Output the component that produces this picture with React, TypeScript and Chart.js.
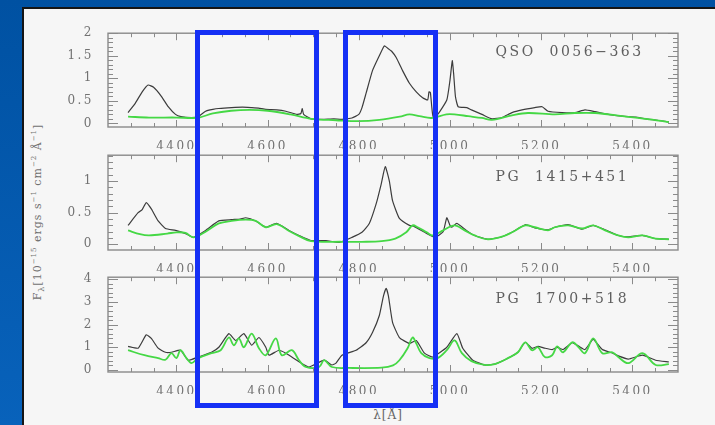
import { useEffect, useRef } from "react";
import { Chart, registerables } from "chart.js";

Chart.register(...registerables);

// ---------- data (wavelength in Å, flux in 1e-15 erg/s/cm2/Å) ----------
const xTickValues = [4400, 4600, 4800, 5000, 5200, 5400];

// QSO 0056-363
const qsoWave = [4294, 4310, 4325, 4338, 4350, 4367, 4382, 4398, 4410, 4433, 4448, 4464, 4480, 4493, 4521, 4545, 4565, 4580, 4596, 4620, 4640, 4664, 4673, 4676, 4679, 4695, 4720, 4745, 4763, 4785, 4800, 4807, 4816, 4830, 4845, 4856, 4863, 4872, 4882, 4896, 4911, 4926, 4940, 4951, 4954, 4957, 4960, 4963, 4973, 4993, 5000, 5005, 5008, 5012, 5018, 5037, 5047, 5070, 5092, 5114, 5136, 5158, 5186, 5202, 5215, 5246, 5274, 5296, 5318, 5347, 5378, 5407, 5429, 5455, 5480];
const qsoFlux = [0.24, 0.45, 0.7, 0.85, 0.8, 0.6, 0.37, 0.2, 0.15, 0.13, 0.15, 0.27, 0.31, 0.33, 0.35, 0.36, 0.35, 0.34, 0.31, 0.3, 0.27, 0.2, 0.22, 0.33, 0.2, 0.1, 0.09, 0.1, 0.09, 0.12, 0.2, 0.35, 0.67, 1.17, 1.5, 1.72, 1.67, 1.6, 1.46, 1.17, 0.89, 0.7, 0.57, 0.52, 0.7, 0.68, 0.37, 0.15, 0.2, 0.52, 0.96, 1.39, 1.1, 0.59, 0.37, 0.35, 0.3, 0.2, 0.1, 0.13, 0.24, 0.3, 0.35, 0.37, 0.27, 0.24, 0.24, 0.3, 0.26, 0.2, 0.16, 0.14, 0.1, 0.07, 0.03];
const qsoFeWave = [4294, 4340, 4400, 4433, 4450, 4480, 4520, 4560, 4600, 4650, 4697, 4750, 4800, 4845, 4890, 4911, 4933, 4960, 4992, 5010, 5040, 5070, 5092, 5136, 5171, 5230, 5274, 5318, 5378, 5430, 5480];
const qsoFeFlux = [0.15, 0.13, 0.13, 0.12, 0.13, 0.22, 0.28, 0.3, 0.28, 0.2, 0.1, 0.07, 0.05, 0.08, 0.15, 0.2, 0.16, 0.12, 0.2, 0.2, 0.16, 0.12, 0.08, 0.18, 0.23, 0.2, 0.23, 0.23, 0.16, 0.1, 0.03];

// PG 1415+451
const pg1415Wave = [4294, 4316, 4325, 4334, 4345, 4360, 4376, 4398, 4420, 4437, 4464, 4493, 4521, 4540, 4552, 4574, 4596, 4620, 4647, 4669, 4695, 4728, 4757, 4785, 4807, 4823, 4838, 4849, 4858, 4867, 4874, 4889, 4911, 4922, 4949, 4967, 4985, 4993, 5000, 5004, 5015, 5036, 5054, 5083, 5114, 5136, 5165, 5186, 5215, 5230, 5259, 5290, 5314, 5340, 5369, 5391, 5422, 5451, 5480];
const pg1415Flux = [0.3, 0.5, 0.55, 0.66, 0.56, 0.37, 0.25, 0.22, 0.17, 0.11, 0.22, 0.37, 0.39, 0.4, 0.42, 0.37, 0.27, 0.33, 0.22, 0.14, 0.06, 0.06, 0.03, 0.11, 0.19, 0.33, 0.64, 0.95, 1.23, 1.0, 0.69, 0.41, 0.3, 0.28, 0.17, 0.11, 0.2, 0.42, 0.3, 0.27, 0.33, 0.22, 0.14, 0.08, 0.12, 0.19, 0.31, 0.26, 0.23, 0.27, 0.31, 0.24, 0.3, 0.23, 0.14, 0.12, 0.14, 0.09, 0.08];
const pg1415FeWave = [4294, 4320, 4340, 4380, 4400, 4420, 4437, 4464, 4493, 4521, 4552, 4574, 4596, 4620, 4647, 4669, 4695, 4763, 4807, 4850, 4880, 4904, 4918, 4929, 4949, 4962, 4985, 5010, 5032, 5054, 5083, 5114, 5136, 5165, 5186, 5215, 5230, 5259, 5290, 5314, 5340, 5369, 5391, 5422, 5451, 5480];
const pg1415FeFlux = [0.22, 0.16, 0.14, 0.17, 0.19, 0.18, 0.11, 0.2, 0.33, 0.37, 0.39, 0.37, 0.27, 0.32, 0.21, 0.13, 0.05, 0.04, 0.04, 0.05, 0.09, 0.19, 0.3, 0.27, 0.19, 0.14, 0.22, 0.3, 0.22, 0.14, 0.08, 0.12, 0.19, 0.3, 0.27, 0.22, 0.27, 0.3, 0.25, 0.3, 0.22, 0.14, 0.11, 0.14, 0.09, 0.08];

// PG 1700+518
const pg1700Wave = [4294, 4316, 4334, 4345, 4360, 4376, 4389, 4409, 4426, 4448, 4477, 4493, 4515, 4530, 4548, 4565, 4581, 4596, 4603, 4625, 4640, 4653, 4690, 4724, 4741, 4750, 4763, 4794, 4816, 4830, 4845, 4854, 4860, 4865, 4874, 4889, 4911, 4926, 4944, 4962, 4993, 5015, 5028, 5050, 5076, 5098, 5127, 5149, 5165, 5180, 5193, 5208, 5224, 5235, 5248, 5268, 5282, 5296, 5314, 5334, 5356, 5369, 5391, 5422, 5451, 5480];
const pg1700Flux = [1.04, 0.96, 1.55, 1.39, 0.96, 0.78, 0.78, 0.87, 0.43, 0.57, 0.78, 1.0, 1.6, 1.3, 1.6, 1.09, 1.43, 1.0, 0.65, 0.87, 0.74, 0.57, 0.13, 0.43, 0.22, 0.3, 0.65, 0.87, 1.2, 1.65, 2.4, 3.26, 3.6, 3.26, 2.1, 1.43, 1.17, 1.3, 0.74, 0.57, 1.0, 1.6, 0.96, 0.43, 0.22, 0.26, 0.52, 0.78, 1.22, 0.95, 1.04, 0.96, 0.9, 1.0, 0.9, 1.2, 1.05, 0.9, 1.35, 0.9, 0.75, 0.62, 0.48, 0.65, 0.43, 0.35];
const pg1700FeWave = [4294, 4330, 4360, 4376, 4389, 4400, 4409, 4422, 4433, 4448, 4477, 4497, 4515, 4526, 4537, 4548, 4565, 4581, 4596, 4618, 4631, 4653, 4669, 4684, 4713, 4724, 4741, 4778, 4850, 4875, 4889, 4907, 4918, 4926, 4937, 4955, 4973, 4993, 5010, 5026, 5047, 5076, 5098, 5127, 5149, 5165, 5180, 5193, 5208, 5224, 5235, 5248, 5268, 5282, 5296, 5314, 5334, 5356, 5369, 5391, 5422, 5451, 5480];
const pg1700FeFlux = [0.87, 0.65, 0.52, 0.45, 0.74, 0.52, 0.87, 0.52, 0.3, 0.52, 0.74, 0.87, 1.43, 1.09, 1.39, 1.0, 1.6, 0.96, 0.65, 1.39, 0.65, 0.87, 0.43, 0.13, 0.13, 0.43, 0.13, 0.09, 0.1, 0.2, 0.43, 0.96, 1.43, 1.17, 0.74, 0.52, 0.52, 0.87, 1.3, 0.74, 0.39, 0.22, 0.26, 0.52, 0.78, 1.22, 0.87, 1.0, 0.57, 0.65, 1.04, 0.78, 1.22, 1.0, 0.74, 1.39, 0.74, 0.78, 0.57, 0.3, 0.74, 0.22, 0.26];

const qsoYTicks = [0, 0.5, 1, 1.5, 2];
const pg1415YTicks = [0, 0.5, 1];
const pg1700YTicks = [0, 1, 2, 3, 4];

const objectNames = ["QSO  0056\u2212363", "PG  1415+451", "PG  1700+518"];

// ---------- styling ----------
const TICK_FONT = "'DejaVu Serif', serif";
const GREY = "#727272";
const FRAME = "#8a8a8a";
const SPEC_COLOR = "#3c3c3c";
const FE_COLOR = "#45d845";

function pts(w: number[], f: number[]) {
  return w.map((x, i) => ({ x, y: f[i] }));
}

const framePlugin = {
  id: "frame",
  beforeDraw(chart: any) {
    chart.ctx.letterSpacing = "2.5px";
  },
  afterDraw(chart: any, _args: any, opts: any) {
    const { ctx, chartArea: a, scales } = chart;
    const x = scales.x;
    const y = scales.y;
    ctx.save();
    ctx.strokeStyle = FRAME;
    ctx.lineWidth = 1.4;
    ctx.strokeRect(a.left, a.top, a.right - a.left, a.bottom - a.top);
    ctx.lineWidth = 1;
    ctx.beginPath();
    for (let v = 4300; v <= 5450; v += 50) {
      const px = Math.round(x.getPixelForValue(v)) + 0.5;
      const len = v % 200 === 0 ? 7 : 4;
      ctx.moveTo(px, a.bottom);
      ctx.lineTo(px, a.bottom - len);
      ctx.moveTo(px, a.top);
      ctx.lineTo(px, a.top + len);
    }
    const step = opts.minorStep;
    for (let k = 0; k * step <= y.max + 1e-9; k++) {
      const v = k * step;
      const py = Math.round(y.getPixelForValue(v)) + 0.5;
      const isMajor = Math.abs(v / opts.majorStep - Math.round(v / opts.majorStep)) < 1e-6;
      const len = isMajor ? 10 : 5;
      ctx.moveTo(a.left, py);
      ctx.lineTo(a.left + len, py);
      ctx.moveTo(a.right, py);
      ctx.lineTo(a.right - len, py);
    }
    ctx.stroke();
    // object name
    ctx.letterSpacing = "2.5px";
    ctx.fillStyle = "#5e5e5e";
    ctx.font = "14px " + TICK_FONT;
    ctx.textAlign = "left";
    ctx.textBaseline = "middle";
    ctx.fillText(opts.label, x.getPixelForValue(opts.labelX), y.getPixelForValue(opts.labelY));
    ctx.restore();
  },
};

type PanelProps = {
  top: number;
  height: number;
  wave: number[];
  flux: number[];
  feWave: number[];
  feFlux: number[];
  yMin: number;
  yMax: number;
  yTicks: number[];
  minorStep: number;
  majorStep: number;
  label: string;
  labelY: number;
};

function Panel(p: PanelProps) {
  const ref = useRef<HTMLCanvasElement | null>(null);
  useEffect(() => {
    if (!ref.current) return;
    const chart = new Chart(ref.current, {
      type: "line",
      data: {
        datasets: [
          {
            data: pts(p.feWave, p.feFlux),
            borderColor: FE_COLOR,
            borderWidth: 1.8,
            pointRadius: 0,
            tension: 0.35,
            order: 0,
          },
          {
            data: pts(p.wave, p.flux),
            borderColor: SPEC_COLOR,
            borderWidth: 1.2,
            pointRadius: 0,
            tension: 0.15,
            order: 1,
          },
        ],
      },
      options: {
        responsive: false,
        animation: false,
        events: [],
        layout: { padding: { top: 12, right: 12, left: 0, bottom: 0 } },
        plugins: {
          legend: { display: false },
          tooltip: { enabled: false },
          frame: {
            minorStep: p.minorStep,
            majorStep: p.majorStep,
            label: p.label,
            labelX: 5100,
            labelY: p.labelY,
          },
        } as any,
        scales: {
          x: {
            type: "linear",
            min: 4250,
            max: 5500,
            grid: { display: false },
            border: { display: false },
            afterBuildTicks: (s: any) => {
              s.ticks = xTickValues.map((v) => ({ value: v }));
            },
            afterFit: (s: any) => {
              s.height = 22;
            },
            ticks: {
              autoSkip: false,
              maxRotation: 0,
              padding: 5,
              color: GREY,
              font: { family: TICK_FONT, size: 12 },
              callback: (v: any) => String(v),
            },
          },
          y: {
            min: p.yMin,
            max: p.yMax,
            grid: { display: false },
            border: { display: false },
            afterBuildTicks: (s: any) => {
              s.ticks = p.yTicks.map((v) => ({ value: v }));
            },
            afterFit: (s: any) => {
              s.width = 48;
            },
            ticks: {
              padding: 6,
              color: GREY,
              font: { family: TICK_FONT, size: 12 },
              callback: (v: any) => String(v),
            },
          },
        },
      },
      plugins: [framePlugin],
    });
    return () => chart.destroy();
  }, []);
  return (
    <canvas
      ref={ref}
      width={630}
      height={p.height}
      style={{ position: "absolute", left: 60, top: p.top, width: 630, height: p.height }}
    />
  );
}

function Box({ left, width }: { left: number; width: number }) {
  return (
    <div
      style={{
        position: "absolute",
        left,
        top: 30,
        width,
        height: 378,
        boxSizing: "border-box",
        border: "5px solid #1530f5",
        pointerEvents: "none",
      }}
    />
  );
}

export default function App() {
  return (
    <div
      style={{
        position: "fixed",
        left: 0,
        top: 0,
        width: 715,
        height: 425,
        overflow: "hidden",
        background: "linear-gradient(180deg, #0051a2 0%, #0862bb 100%)",
      }}
    >
      <div
        style={{
          position: "absolute",
          left: 22,
          top: 7,
          width: 693,
          height: 418,
          background: "#f6f6f6",
          borderLeft: "2px solid #151515",
          borderTop: "2px solid #151515",
          boxSizing: "border-box",
        }}
      />
      <Panel top={20} height={129} wave={qsoWave} flux={qsoFlux} feWave={qsoFeWave} feFlux={qsoFeFlux}
        yMin={-0.08} yMax={2.0} yTicks={qsoYTicks} minorStep={0.1} majorStep={0.5} label={objectNames[0]} labelY={1.57} />
      <Panel top={142} height={130} wave={pg1415Wave} flux={pg1415Flux} feWave={pg1415FeWave} feFlux={pg1415FeFlux}
        yMin={-0.09} yMax={1.41} yTicks={pg1415YTicks} minorStep={0.1} majorStep={0.5} label={objectNames[1]} labelY={1.06} />
      <Panel top={264} height={130} wave={pg1700Wave} flux={pg1700Flux} feWave={pg1700FeWave} feFlux={pg1700FeFlux}
        yMin={-0.09} yMax={4.09} yTicks={pg1700YTicks} minorStep={0.2} majorStep={1} label={objectNames[2]} labelY={3.13} />
      <div
        style={{
          position: "absolute",
          left: 38,
          top: 212,
          transform: "translate(-50%, -50%) rotate(-90deg)",
          whiteSpace: "nowrap",
          fontFamily: TICK_FONT,
          fontSize: 11,
          letterSpacing: "1px",
          color: "#707070",
        }}
      >
        F<sub style={{ fontSize: 8 }}>λ</sub>[10<sup style={{ fontSize: 7 }}>−15</sup> ergs s<sup style={{ fontSize: 7 }}>−1</sup> cm<sup style={{ fontSize: 7 }}>−2</sup> Å<sup style={{ fontSize: 7 }}>−1</sup>]
      </div>
      <div
        style={{
          position: "absolute",
          left: 388,
          top: 415,
          transform: "translate(-50%, -50%)",
          whiteSpace: "nowrap",
          fontFamily: TICK_FONT,
          fontSize: 12,
          letterSpacing: "1px",
          color: "#666666",
        }}
      >
        λ[Å]
      </div>
      <Box left={195} width={124} />
      <Box left={343} width={95} />
    </div>
  );
}
